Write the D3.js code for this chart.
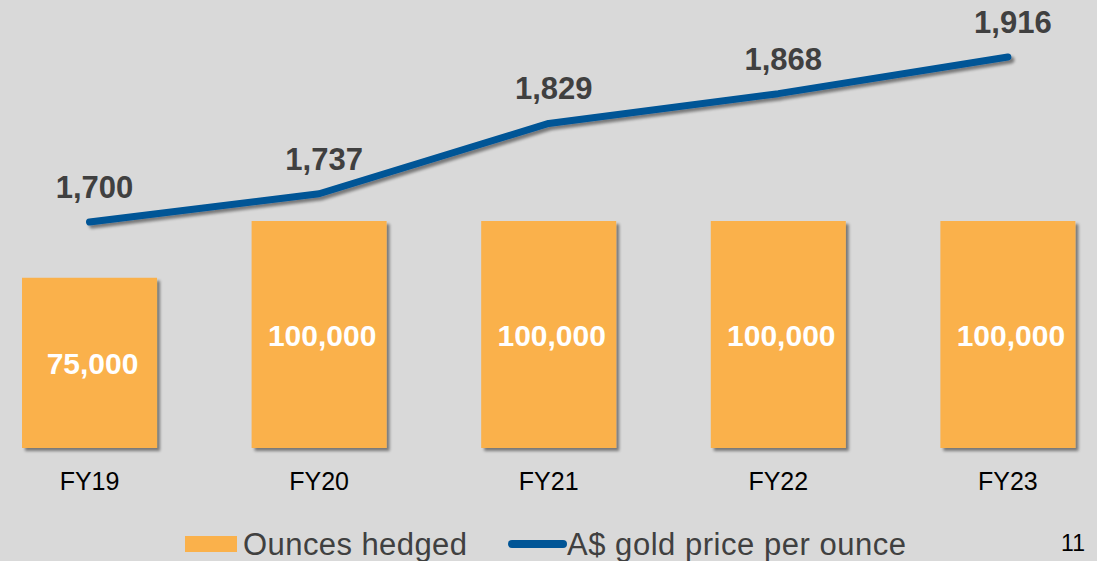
<!DOCTYPE html>
<html><head><meta charset="utf-8">
<script src="https://cdn.jsdelivr.net/npm/d3@7"></script>
<style>html,body{margin:0;padding:0;background:#d9d9d9;}svg{display:block;font-family:"Liberation Sans",Arial,sans-serif;}</style>
</head><body>
<script>
const categories = ["FY19","FY20","FY21","FY22","FY23"];
const ouncesHedged = [75000,100000,100000,100000,100000];
const goldPrice = [1700,1737,1829,1868,1916];
const legendLabels = ["Ounces hedged","A$ gold price per ounce"];
const pageNumber = "11";

const W=1097,H=561;
const svg=d3.select("body").append("svg").attr("width",W).attr("height",H);
svg.append("rect").attr("width",W).attr("height",H).attr("fill","#d9d9d9");

const defs=svg.append("defs");
const f=defs.append("filter").attr("id","sh").attr("x","-20%").attr("y","-20%").attr("width","150%").attr("height","160%");
f.append("feGaussianBlur").attr("in","SourceAlpha").attr("stdDeviation",1.6).attr("result","b");
f.append("feOffset").attr("in","b").attr("dx",3).attr("dy",3).attr("result","o");
f.append("feComponentTransfer").attr("in","o").attr("result","o2").append("feFuncA").attr("type","linear").attr("slope",0.45);
const m=f.append("feMerge");m.append("feMergeNode").attr("in","o2");m.append("feMergeNode").attr("in","SourceGraphic");

const x=d3.scaleBand().domain(categories).range([-23.9,1121.3]).paddingInner(0.412).paddingOuter(0.2);
const yBar=d3.scaleLinear().domain([0,100000]).range([448,221]);
const yLine=d3.scaleLinear().domain([1700,1916]).range([222,57]);
const cx=d=>x(d)+x.bandwidth()/2;

const bars=svg.append("g");
bars.selectAll("rect").data(categories).join("rect")
 .attr("x",d=>x(d)).attr("width",x.bandwidth())
 .attr("y",(d,i)=>yBar(ouncesHedged[i])).attr("height",(d,i)=>yBar(0)-yBar(ouncesHedged[i]))
 .attr("fill","#fab14b").attr("filter","url(#sh)");
bars.selectAll("text").data(categories).join("text")
 .attr("x",d=>cx(d)+3).attr("y",(d,i)=>(yBar(ouncesHedged[i])+yBar(0))/2+11)
 .attr("text-anchor","middle").attr("fill","#fff").attr("font-weight","bold").attr("font-size",30)
 .text((d,i)=>d3.format(",")(ouncesHedged[i]));

const line=d3.line().x((d,i)=>cx(categories[i])).y(d=>yLine(d));
svg.append("path").datum(goldPrice).attr("d",line).attr("fill","none").attr("stroke","#005596")
 .attr("stroke-width",7).attr("stroke-linecap","round").attr("stroke-linejoin","round").attr("filter","url(#sh)");
svg.append("g").selectAll("text").data(goldPrice).join("text")
 .attr("x",(d,i)=>cx(categories[i])+5).attr("y",d=>yLine(d)-24)
 .attr("text-anchor","middle").attr("fill","#404040").attr("font-weight","bold").attr("font-size",31)
 .text(d=>d3.format(",")(d));

const xAxis=svg.append("g").attr("transform","translate(0,448)")
 .call(d3.axisBottom(x).tickSize(0).tickPadding(0));
xAxis.select(".domain").remove();
xAxis.selectAll("text").attr("y",42).attr("dy",0).attr("font-size",25).attr("fill","#000")
 .attr("font-family","Liberation Sans, Arial, sans-serif");

const lg=svg.append("g");
lg.append("rect").attr("x",185).attr("y",536).attr("width",52).attr("height",16).attr("fill","#fab14b");
lg.append("text").attr("x",243).attr("y",555).attr("font-size",31).attr("fill","#404040").attr("textLength",224).text(legendLabels[0]);
lg.append("line").attr("x1",512).attr("x2",563).attr("y1",544).attr("y2",544).attr("stroke","#005596").attr("stroke-width",8).attr("stroke-linecap","round");
lg.append("text").attr("x",567).attr("y",555).attr("font-size",31).attr("fill","#404040").attr("textLength",339).text(legendLabels[1]);
svg.append("text").attr("x",1085).attr("y",551).attr("text-anchor","end").attr("font-size",23).attr("fill","#000").text(pageNumber);
</script>
</body></html>
